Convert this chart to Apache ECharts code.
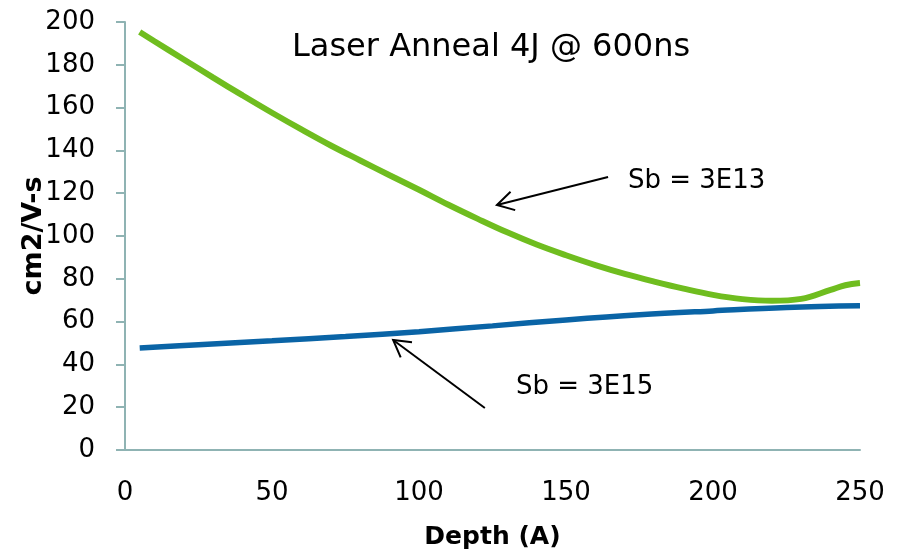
<!DOCTYPE html>
<html>
<head>
<meta charset="utf-8">
<script src="https://cdn.jsdelivr.net/npm/echarts@6/dist/echarts.min.js"></script>
<style>
  html, body { margin: 0; padding: 0; background: #fff; }
  #main { width: 897px; height: 552px; }
</style>
</head>
<body>
<div id="main"></div>
<script>
var depthGreen = [5, 10, 20, 30, 40, 50, 60, 70, 80, 90, 100, 110, 120, 130, 140, 150, 160, 170, 180, 190, 200, 210, 220, 230, 240, 245, 250];
var mobilityGreen = [195.3, 191, 182.5, 174, 165.7, 157.6, 149.8, 142.3, 135.3, 128.4, 121.6, 114.6, 108, 101.7, 96, 91, 86.4, 82.3, 78.7, 75.4, 72.5, 70.5, 69.7, 70.6, 74.8, 77, 78];
var depthBlue = [5, 25, 50, 75, 100, 125, 150, 175, 200, 225, 250];
var mobilityBlue = [47.7, 49.2, 51, 53, 55.3, 58, 60.8, 63.2, 65, 66.6, 67.4];

// annotation arrows, in data units: [tail, head]
var arrow3E13 = [[164.3, 127.6], [126.5, 114.5]];
var arrow3E15 = [[122.4, 19.6], [91.2, 51.4]];

var FONT = 'DejaVu Sans';

(function () {
  var myChart = echarts.init(document.getElementById('main'));

  function pairs(xs, ys) {
    return xs.map(function (x, i) { return [x, ys[i]]; });
  }

  var option = {
    animation: false,
    grid: { left: 125, right: 37, top: 22, bottom: 102, outerBoundsMode: 'none' },
    xAxis: {
      type: 'value',
      min: 0,
      max: 250,
      interval: 50,
      name: 'Depth (A)',
      nameLocation: 'middle',
      nameGap: 75,
      nameTextStyle: { fontFamily: FONT, fontWeight: 'bold', fontSize: 25, color: '#000' },
      axisLine: { show: true, lineStyle: { color: '#8fb3b3', width: 2 } },
      axisTick: { show: false },
      axisLabel: { fontFamily: FONT, fontSize: 26, color: '#000', margin: 30 },
      splitLine: { show: false }
    },
    yAxis: {
      type: 'value',
      min: 0,
      max: 200,
      interval: 20,
      name: 'cm2/V-s',
      nameLocation: 'middle',
      nameGap: 78,
      nameMoveOverlap: false,
      nameTextStyle: { fontFamily: FONT, fontWeight: 'bold', fontSize: 27, color: '#000' },
      axisLine: { show: true, lineStyle: { color: '#8fb3b3', width: 2 } },
      axisTick: { show: true, length: 9, lineStyle: { color: '#8fb3b3', width: 2 } },
      axisLabel: { fontFamily: FONT, fontSize: 26, color: '#000', margin: 30 },
      splitLine: { show: false }
    },
    series: [
      {
        name: 'Sb = 3E13',
        type: 'line',
        data: pairs(depthGreen, mobilityGreen),
        smooth: 0.4,
        showSymbol: false,
        lineStyle: { color: '#6fbd1f', width: 6 }
      },
      {
        name: 'Sb = 3E15',
        type: 'line',
        data: pairs(depthBlue, mobilityBlue),
        smooth: 0.4,
        showSymbol: false,
        lineStyle: { color: '#0a64a6', width: 5.5 }
      }
    ]
  };

  myChart.setOption(option);

  function arrowGraphic(arrow) {
    var t = myChart.convertToPixel({ gridIndex: 0 }, arrow[0]);
    var h = myChart.convertToPixel({ gridIndex: 0 }, arrow[1]);
    var ang = Math.atan2(t[1] - h[1], t[0] - h[0]);
    var len = 19, spread = Math.PI / 6;
    var a1 = [h[0] + len * Math.cos(ang + spread), h[1] + len * Math.sin(ang + spread)];
    var a2 = [h[0] + len * Math.cos(ang - spread), h[1] + len * Math.sin(ang - spread)];
    return [
      { type: 'line', shape: { x1: t[0], y1: t[1], x2: h[0], y2: h[1] }, style: { stroke: '#000', lineWidth: 2 } },
      { type: 'polyline', shape: { points: [a1, h, a2] }, style: { stroke: '#000', lineWidth: 2, fill: null } }
    ];
  }

  var graphics = [
    { type: 'text', x: 292, y: 48, style: { text: 'Laser Anneal 4J @ 600ns', fontFamily: FONT, fontSize: 32, fill: '#000', verticalAlign: 'middle' } },
    { type: 'text', x: 628, y: 181, style: { text: 'Sb = 3E13', fontFamily: FONT, fontSize: 26, fill: '#000', verticalAlign: 'middle' } },
    { type: 'text', x: 516, y: 387, style: { text: 'Sb = 3E15', fontFamily: FONT, fontSize: 26, fill: '#000', verticalAlign: 'middle' } }
  ].concat(arrowGraphic(arrow3E13), arrowGraphic(arrow3E15));

  myChart.setOption({ graphic: graphics });
})();
</script>
</body>
</html>
